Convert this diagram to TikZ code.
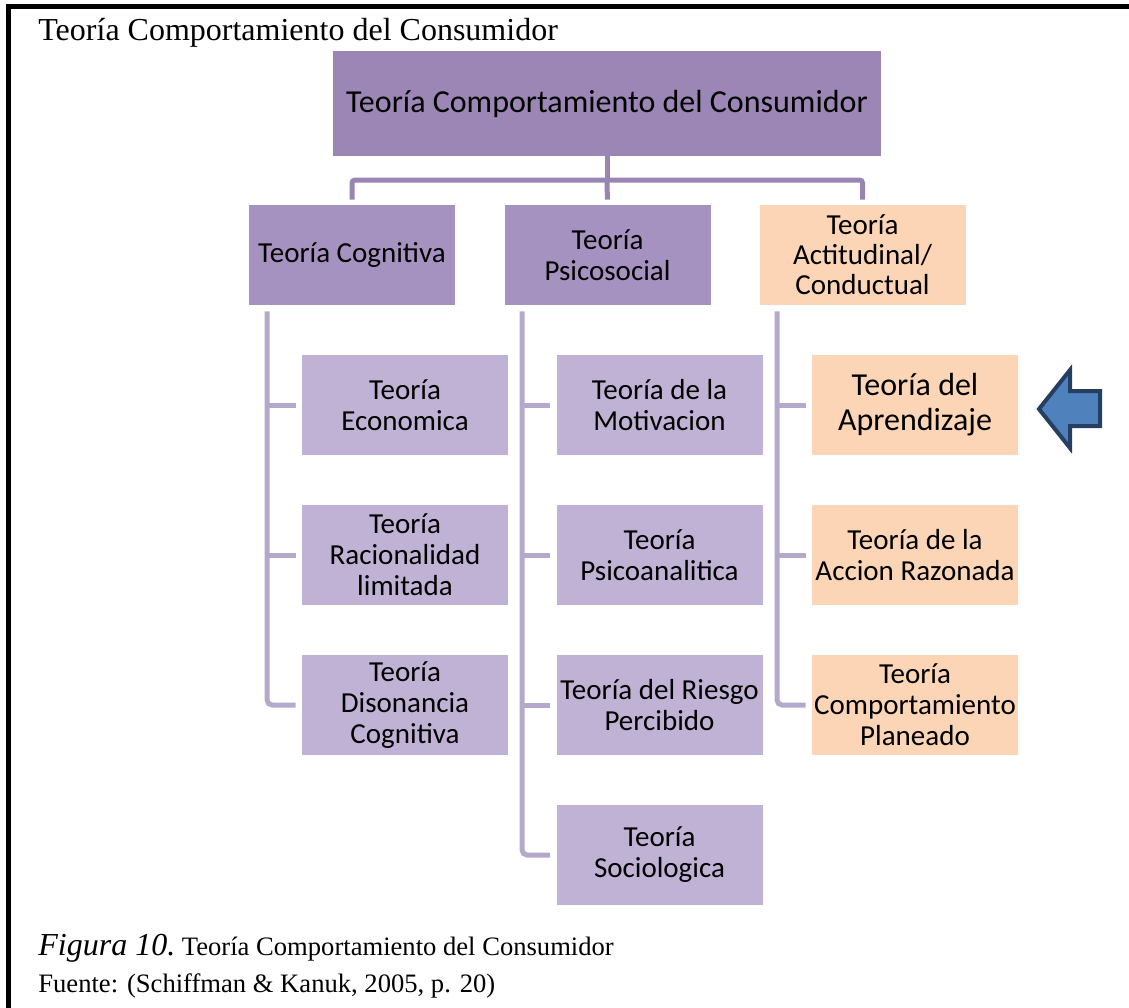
\documentclass[tikz,border=0pt]{standalone}
\usepackage{fontspec}
\setmainfont{Liberation Serif}
\newfontfamily\calibri{Carlito}
\usepackage{tikz}
\usetikzlibrary{calc}

\definecolor{TopPurple}{HTML}{9B86B6}
\definecolor{MidPurple}{HTML}{A692C0}
\definecolor{LowPurple}{HTML}{BFB2D4}
\definecolor{BarPurple}{HTML}{9885B3}
\definecolor{LinePurple}{HTML}{B5A9CB}
\definecolor{Peach}{HTML}{FBD5B5}
\definecolor{ArrowBlue}{HTML}{4F81BD}
\definecolor{ArrowEdge}{HTML}{243F60}

\tikzset{
	theorybox/.style={inner sep=0, minimum width=103pt, minimum height=50pt, align=center,
		font=\calibri\fontsize{14.5}{15.5}\selectfont},
	midbox/.style={theorybox, fill=MidPurple},
	lowbox/.style={theorybox, fill=LowPurple},
	peachbox/.style={theorybox, fill=Peach},
	barline/.style={BarPurple, line width=2.5pt},
	subline/.style={LinePurple, line width=2.5pt}
}

\begin{document}
\begin{tikzpicture}[x=0.5pt,y=-0.5pt]
	
	\useasboundingbox (0,0) rectangle (1129,1007);
	
	\def\ColOne{405}
	\def\ColTwo{659.5}
	\def\ColThree{915}
	\def\RowTop{405}
	\def\RowGap{150}
	
	%% FRAME AND TITLE
	\draw[line width=2.5pt] (8.5,1012) -- (8.5,6.5) -- (1135,6.5);
	\node[anchor=base west, inner sep=0, font=\fontsize{16}{18}\selectfont] (title) at (38,40) {Teoría Comportamiento del Consumidor};
	
	%% TOP LEVEL
	\node[theorybox, fill=TopPurple, minimum width=274pt, minimum height=52.5pt, font=\calibri\fontsize{16}{18}\selectfont] (Teoria) at (607,103.5) {Teoría Comportamiento del Consumidor};
	
	\node[midbox] (Cog) at (352,255) {Teoría Cognitiva};
	\node[midbox] (Psi) at (607.5,255) {Teoría\\Psicosocial};
	\node[peachbox, font=\calibri\fontsize{14.5}{15}\selectfont] (Act) at (862.5,255) {Teoría\\Actitudinal/\\Conductual};
	
	\coordinate (bar) at (607,180);
	\draw[barline] (Teoria.south) -- (Teoria.south |- bar);
	\draw[barline, rounded corners=1.5pt, shorten <=2.5pt, shorten >=2.5pt] (Cog.north) |- (Teoria.south |- bar) -| (Act.north);
	\draw[barline, shorten >=2.5pt] (Teoria.south |- bar) -- (Psi.north);
	
	%% CHILDREN
	\foreach \nm/\txt [count=\r] in {Eco/{Teoría\\Economica}, Rac/{Teoría\\Racionalidad\\limitada}, Dis/{Teoría\\Disonancia\\Cognitiva}}
		\node[lowbox] (\nm) at (\ColOne,{\RowTop+(\r-1)*\RowGap}) {\txt};
	
	\foreach \nm/\txt [count=\r] in {Mot/{Teoría de la\\Motivacion}, Psa/{Teoría\\Psicoanalitica}, Rie/{Teoría del Riesgo\\Percibido}, Soc/{Teoría\\Sociologica}}
		\node[lowbox] (\nm) at (\ColTwo,{\RowTop+(\r-1)*\RowGap}) {\txt};
	
	\node[peachbox, font=\calibri\fontsize{16}{17.5}\selectfont] (Apr) at (\ColThree,\RowTop) {Teoría del\\Aprendizaje};
	\node[peachbox] (Acc) at (\ColThree,{\RowTop+\RowGap}) {Teoría de la\\Accion Razonada};
	\node[peachbox] (Pla) at (\ColThree,{\RowTop+2*\RowGap}) {Teoría\\Comportamiento\\Planeado};
	
	%% SIDE LINES
	\coordinate (CogLine) at ([shift={(9.25pt,-3pt)}]Cog.south west);
	\coordinate (PsiLine) at ([shift={(9pt,-3pt)}]Psi.south west);
	\coordinate (ActLine) at ([shift={(9pt,-3pt)}]Act.south west);
	
	\draw[subline, rounded corners=2.5pt] (CogLine) |- ([xshift=-3pt]Dis.west);
	\draw[subline, rounded corners=2.5pt] (PsiLine) |- ([xshift=-3pt]Soc.west);
	\draw[subline, rounded corners=2.5pt] (ActLine) |- ([xshift=-3pt]Pla.west);
	
	\foreach \nm in {Eco,Rac}
		\draw[subline] (CogLine |- \nm.west) -- ([xshift=-3pt]\nm.west);
	\foreach \nm in {Mot,Psa,Rie}
		\draw[subline] (PsiLine |- \nm.west) -- ([xshift=-3pt]\nm.west);
	\foreach \nm in {Apr,Acc}
		\draw[subline] (ActLine |- \nm.west) -- ([xshift=-3pt]\nm.west);
	
	%% POINTER
	\draw[ArrowEdge, fill=ArrowBlue, line width=2pt] (1039,409) -- (1070,370) -- (1070,391) -- (1100,391) -- (1100,426) -- (1070,426) -- (1070,448) -- cycle;
	
	%% CAPTION
	\node[anchor=base west, inner sep=0] (caption) at (38,955) {{\fontsize{16}{18}\selectfont\itshape Figura 10.} {\fontsize{13.3}{16}\selectfont Teoría Comportamiento del Consumidor}};
	\node[anchor=base west, inner sep=0, font=\fontsize{13.3}{16}\selectfont] (source) at (38,992) {Fuente: (Schiffman \& Kanuk, 2005, p. 20)};
	
\end{tikzpicture}
\end{document}
